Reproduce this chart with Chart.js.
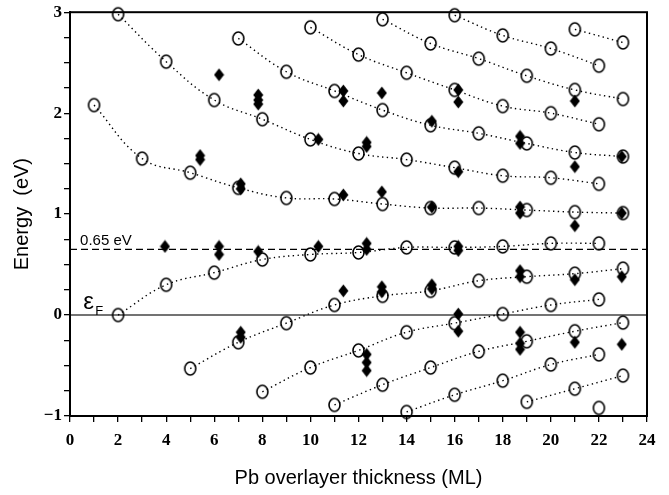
<!DOCTYPE html>
<html>
<head>
<meta charset="utf-8">
<script src="https://cdn.jsdelivr.net/npm/chart.js@4.4.0/dist/chart.umd.min.js"></script>
<style>
  html, body { margin: 0; padding: 0; background: #fff; }
</style>
</head>
<body>
<canvas id="chart" width="669" height="495"></canvas>
<script>
// quantum well states: measured points (open circles), [thickness ML, energy eV]
const stateA = [[2, 0], [4, 0.3], [6, 0.42], [8, 0.55], [10, 0.6], [12, 0.62], [14, 0.67], [16, 0.67], [18, 0.68], [20, 0.71], [22, 0.71]];
const stateB = [[1, 2.08], [3, 1.55], [5, 1.41], [7, 1.26], [9, 1.16], [11, 1.15], [13, 1.1], [15, 1.06], [17, 1.06], [19, 1.04], [21, 1.02], [23, 1.01]];
const stateC = [[2, 2.98], [4, 2.51], [6, 2.13], [8, 1.94], [10, 1.74], [12, 1.6], [14, 1.54], [16, 1.46], [18, 1.38], [20, 1.36], [22, 1.3]];
const stateD = [[7, 2.74], [9, 2.41], [11, 2.22], [13, 2.03], [15, 1.88], [17, 1.8], [19, 1.7], [21, 1.61], [23, 1.57]];
const stateE = [[10, 2.85], [12, 2.58], [14, 2.4], [16, 2.23], [18, 2.07], [20, 2.0], [22, 1.89]];
const stateF = [[13, 2.93], [15, 2.69], [17, 2.54], [19, 2.37], [21, 2.23], [23, 2.14]];
const stateG = [[16, 2.97], [18, 2.77], [20, 2.64], [22, 2.47]];
const stateH = [[21, 2.83], [23, 2.7]];
const stateI = [[5, -0.53], [7, -0.27], [9, -0.08], [11, 0.1], [13, 0.19], [15, 0.24], [17, 0.34], [19, 0.38], [21, 0.41], [23, 0.46]];
const stateJ = [[8, -0.76], [10, -0.52], [12, -0.35], [14, -0.17], [16, -0.08], [18, 0.01], [20, 0.1], [22, 0.155]];
const stateK = [[11, -0.89], [13, -0.69], [15, -0.52], [17, -0.36], [19, -0.26], [21, -0.16], [23, -0.075]];
const stateL = [[14, -0.96], [16, -0.79], [18, -0.65], [20, -0.49], [22, -0.39]];
const stateM = [[19, -0.86], [21, -0.73], [23, -0.6]];
const loneState = [[22, -0.92]];

// filled diamonds
const diamonds = [
  [3.95, 0.68],
  [5.41, 1.58], [5.41, 1.54],
  [6.2, 2.38], [6.2, 0.68], [6.2, 0.6],
  [7.1, 1.3], [7.1, 1.25], [7.1, -0.17], [7.1, -0.22],
  [7.83, 2.18], [7.83, 2.13], [7.83, 2.09], [7.83, 0.63],
  [10.33, 1.74], [10.33, 0.68],
  [11.37, 2.22], [11.37, 2.12], [11.37, 1.19], [11.37, 0.24],
  [12.34, 1.71], [12.34, 1.67], [12.34, 0.71], [12.34, 0.65], [12.34, -0.39], [12.34, -0.47], [12.34, -0.55],
  [12.97, 2.2], [12.97, 1.22], [12.97, 0.28], [12.97, 0.23],
  [15.05, 1.92], [15.05, 1.07], [15.05, 0.3], [15.05, 0.26],
  [16.15, 2.23], [16.15, 2.11], [16.15, 1.42], [16.15, 0.68], [16.15, 0.64], [16.15, 0.01], [16.15, -0.16],
  [18.72, 1.77], [18.72, 1.7], [18.72, 1.07], [18.72, 1.01], [18.72, 0.44], [18.72, 0.38], [18.72, -0.17], [18.72, -0.28], [18.72, -0.34],
  [21, 2.12], [21, 1.47], [21, 0.885], [21, 0.35], [21, -0.27],
  [22.95, 1.57], [22.95, 1.01], [22.95, 0.38], [22.95, -0.29]
];

const fermiLevel = 0;
const refLevel = 0.65;
const xTicks = [0, 2, 4, 6, 8, 10, 12, 14, 16, 18, 20, 22, 24];
const yTicks = [-1, 0, 1, 2, 3];

const curves = [stateA, stateB, stateC, stateD, stateE, stateF, stateG, stateH, stateI, stateJ, stateK, stateL, stateM];

function toXY(list) {
  return list.map(p => ({ x: p[0], y: p[1] }));
}

// open, slightly tall circle
function makeRing() {
  const c = document.createElement('canvas');
  c.width = 15; c.height = 17;
  const g = c.getContext('2d');
  g.lineWidth = 1.6;
  g.strokeStyle = '#000';
  g.beginPath();
  g.ellipse(7.5, 8.5, 5.5, 6.5, 0, 0, Math.PI * 2);
  g.stroke();
  return c;
}

function makeDiamond() {
  const c = document.createElement('canvas');
  c.width = 11; c.height = 14;
  const g = c.getContext('2d');
  g.fillStyle = '#000';
  g.beginPath();
  g.moveTo(5.5, 0.5);
  g.lineTo(10.5, 7);
  g.lineTo(5.5, 13.5);
  g.lineTo(0.5, 7);
  g.closePath();
  g.fill();
  return c;
}

const ring = makeRing();
const diamond = makeDiamond();

const datasets = [];

datasets.push({
  data: toXY(diamonds),
  pointStyle: diamond,
  clip: false
});

curves.concat([loneState]).forEach(c => {
  datasets.push({
    data: toXY(c),
    pointStyle: ring,
    clip: false
  });
});

curves.forEach(c => {
  datasets.push({
    data: toXY(c),
    showLine: true,
    pointRadius: 0,
    borderColor: '#000',
    borderWidth: 1.4,
    borderDash: [1.4, 3.4],
    tension: 0.4
  });
});

datasets.push({
  data: [{ x: 0, y: refLevel }, { x: 24, y: refLevel }],
  showLine: true,
  pointRadius: 0,
  borderColor: '#000',
  borderWidth: 1.3,
  borderDash: [7, 4]
});

datasets.push({
  data: [{ x: 0, y: fermiLevel }, { x: 24, y: fermiLevel }],
  showLine: true,
  pointRadius: 0,
  borderColor: '#444',
  borderWidth: 1.6
});

// frame and text labels
const extras = {
  id: 'extras',
  afterDraw(chart) {
    const { ctx, chartArea, scales } = chart;
    ctx.save();
    ctx.strokeStyle = '#000';
    ctx.lineWidth = 2;
    ctx.strokeRect(chartArea.left, chartArea.top, chartArea.right - chartArea.left, chartArea.bottom - chartArea.top);

    ctx.fillStyle = '#000';
    ctx.textBaseline = 'alphabetic';
    ctx.font = '15px "Liberation Sans", Arial, sans-serif';
    ctx.fillText('0.65 eV', scales.x.getPixelForValue(0.42), scales.y.getPixelForValue(0.695));

    ctx.font = '24px "Liberation Sans", Arial, sans-serif';
    const ex = scales.x.getPixelForValue(0.55);
    const ey = scales.y.getPixelForValue(0.06);
    ctx.fillText('\u03b5', ex, ey);
    ctx.font = '13px "Liberation Sans", Arial, sans-serif';
    ctx.fillText('F', ex + 12, ey + 6);
    ctx.restore();
  }
};

new Chart(document.getElementById('chart'), {
  type: 'scatter',
  data: { datasets: datasets },
  options: {
    responsive: false,
    animation: false,
    layout: { padding: { top: 10, right: 22, left: 0, bottom: 0 } },
    plugins: {
      legend: { display: false },
      tooltip: { enabled: false }
    },
    elements: {
      point: { radius: 6 }
    },
    scales: {
      x: {
        type: 'linear',
        min: 0,
        max: 24,
        afterFit: s => { s.height = 79; },
        ticks: {
          stepSize: 1,
          autoSkip: false,
          maxRotation: 0,
          padding: 8,
          color: '#000',
          font: { family: '"Liberation Serif", "Times New Roman", serif', size: 17, weight: 'bold' },
          callback: v => xTicks.includes(v) ? String(v) : ''
        },
        grid: { drawOnChartArea: false, tickLength: 6, color: '#000', lineWidth: 1.3 },
        border: { display: true, color: '#000', width: 2 },
        title: {
          display: true,
          text: 'Pb overlayer thickness (ML)',
          color: '#000',
          font: { family: '"Liberation Sans", Arial, sans-serif', size: 20 },
          padding: { top: 0, bottom: 5 }
        }
      },
      y: {
        type: 'linear',
        min: -1,
        max: 3,
        afterFit: s => { s.width = 70; },
        ticks: {
          stepSize: 0.25,
          autoSkip: false,
          padding: 2,
          color: '#000',
          font: { family: '"Liberation Serif", "Times New Roman", serif', size: 17, weight: 'bold' },
          callback: v => yTicks.includes(v) ? (v < 0 ? '\u2212' + Math.abs(v) : String(v)) : ''
        },
        grid: { drawOnChartArea: false, tickLength: 6, color: '#000', lineWidth: 1.3 },
        border: { display: true, color: '#000', width: 2 },
        title: {
          display: true,
          text: 'Energy  (eV)',
          color: '#000',
          font: { family: '"Liberation Sans", Arial, sans-serif', size: 20 },
          padding: { top: 10, bottom: 0 }
        }
      }
    }
  },
  plugins: [extras]
});
</script>
</body>
</html>
